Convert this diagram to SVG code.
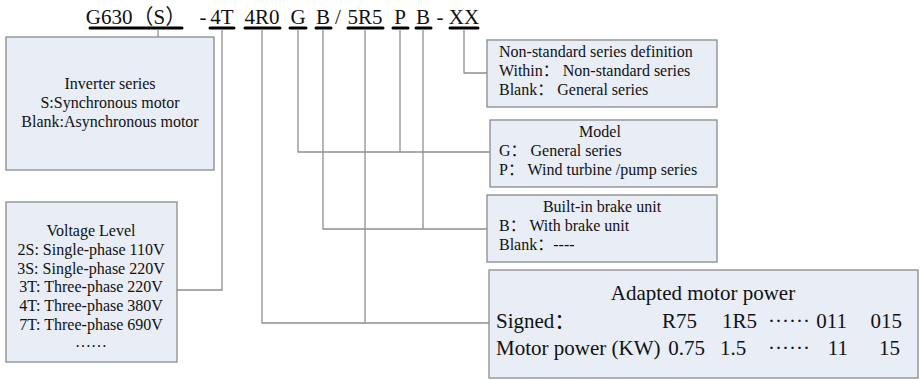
<svg xmlns="http://www.w3.org/2000/svg" width="920" height="380" viewBox="0 0 920 380">
<style>
text{font-family:"Liberation Serif","Noto Sans CJK SC",serif;fill:#111}
.t{font-size:21px}
.b{font-size:16px}
.big{font-size:21px}
.box{fill:#e8edf6;stroke:#8a8a8a;stroke-width:1.3}
.ul{stroke:#000;stroke-width:3;stroke-linecap:round}
.c{fill:none;stroke:#8f8f8f;stroke-width:1.3}
.m{text-anchor:middle}
.e{text-anchor:end}
</style>
<rect width="920" height="380" fill="#fff"/>
<g id="code">
<text class="t" x="136" y="24" text-anchor="middle">G630（S）</text>
<text class="t" x="203" y="24" text-anchor="middle">-</text>
<text class="t" x="222" y="24" text-anchor="middle">4T</text>
<text class="t" x="262" y="24" text-anchor="middle">4R0</text>
<text class="t" x="298" y="24" text-anchor="middle">G</text>
<text class="t" x="323" y="24" text-anchor="middle">B</text>
<text class="t" x="338" y="24" text-anchor="middle">/</text>
<text class="t" x="365" y="24" text-anchor="middle">5R5</text>
<text class="t" x="400" y="24" text-anchor="middle">P</text>
<text class="t" x="423" y="24" text-anchor="middle">B</text>
<text class="t" x="440" y="24" text-anchor="middle">-</text>
<text class="t" x="464" y="24" text-anchor="middle">XX</text>
<line class="ul" x1="90" y1="28" x2="182" y2="28"/>
<line class="ul" x1="210" y1="28" x2="234" y2="28"/>
<line class="ul" x1="245" y1="28" x2="280" y2="28"/>
<line class="ul" x1="290" y1="28" x2="306" y2="28"/>
<line class="ul" x1="316" y1="28" x2="331" y2="28"/>
<line class="ul" x1="348" y1="28" x2="383" y2="28"/>
<line class="ul" x1="393" y1="28" x2="408" y2="28"/>
<line class="ul" x1="416" y1="28" x2="431" y2="28"/>
<line class="ul" x1="450" y1="28" x2="478" y2="28"/>
</g>
<g id="connectors">
<path class="c" d="M158 29V37"/>
<path class="c" d="M222 29V290H177"/>
<path class="c" d="M262 29V323H489"/>
<path class="c" d="M365 29V323"/>
<path class="c" d="M298 29V152H490"/>
<path class="c" d="M400 29V152"/>
<path class="c" d="M323 29V229H487"/>
<path class="c" d="M423 29V229"/>
<path class="c" d="M464 29V73H487"/>
</g>
<g id="inverter">
<rect class="box" x="6" y="37" width="208" height="133"/>
<text class="b m" x="110" y="89">Inverter series</text>
<text class="b m" x="110" y="108">S:Synchronous motor</text>
<text class="b m" x="110" y="127">Blank:Asynchronous motor</text>
</g>
<g id="voltage">
<rect class="box" x="6" y="202" width="171" height="160"/>
<text class="b m" x="91" y="236">Voltage Level</text>
<text class="b m" x="91" y="255">2S: Single-phase 110V</text>
<text class="b m" x="91" y="274">3S: Single-phase 220V</text>
<text class="b m" x="91" y="292">3T: Three-phase 220V</text>
<text class="b m" x="91" y="311">4T: Three-phase 380V</text>
<text class="b m" x="91" y="330">7T: Three-phase 690V</text>
<text class="b m" x="91" y="347">……</text>
</g>
<g id="nonstandard">
<rect class="box" x="487" y="40" width="230" height="67"/>
<text class="b" x="499" y="57">Non-standard series definition</text>
<text class="b" x="499" y="76">Within：  Non-standard series</text>
<text class="b" x="499" y="95">Blank：  General series</text>
</g>
<g id="model">
<rect class="box" x="490" y="120" width="227" height="67"/>
<text class="b m" x="600" y="137">Model</text>
<text class="b" x="499" y="156">G：  General series</text>
<text class="b" x="499" y="175">P：  Wind turbine /pump series</text>
</g>
<g id="brake">
<rect class="box" x="487" y="195" width="230" height="67"/>
<text class="b m" x="602" y="212">Built-in brake unit</text>
<text class="b" x="499" y="231">B：  With brake unit</text>
<text class="b" x="499" y="250">Blank：----</text>
</g>
<g id="power">
<rect class="box" x="489" y="270" width="429" height="108"/>
<text class="big m" x="703" y="300">Adapted motor power</text>
<text class="big" x="496" y="328">Signed：</text>
<text class="big e" x="697" y="328">R75</text>
<text class="big e" x="757" y="328">1R5</text>
<text class="big m" x="789" y="328">······</text>
<text class="big e" x="847" y="328">011</text>
<text class="big e" x="902" y="328">015</text>
<text class="big" x="496" y="355">Motor power (KW)</text>
<text class="big e" x="705" y="355">0.75</text>
<text class="big" x="720" y="355">1.5</text>
<text class="big m" x="789" y="355">······</text>
<text class="big e" x="848" y="355">11</text>
<text class="big e" x="900" y="355">15</text>
</g>
</svg>
